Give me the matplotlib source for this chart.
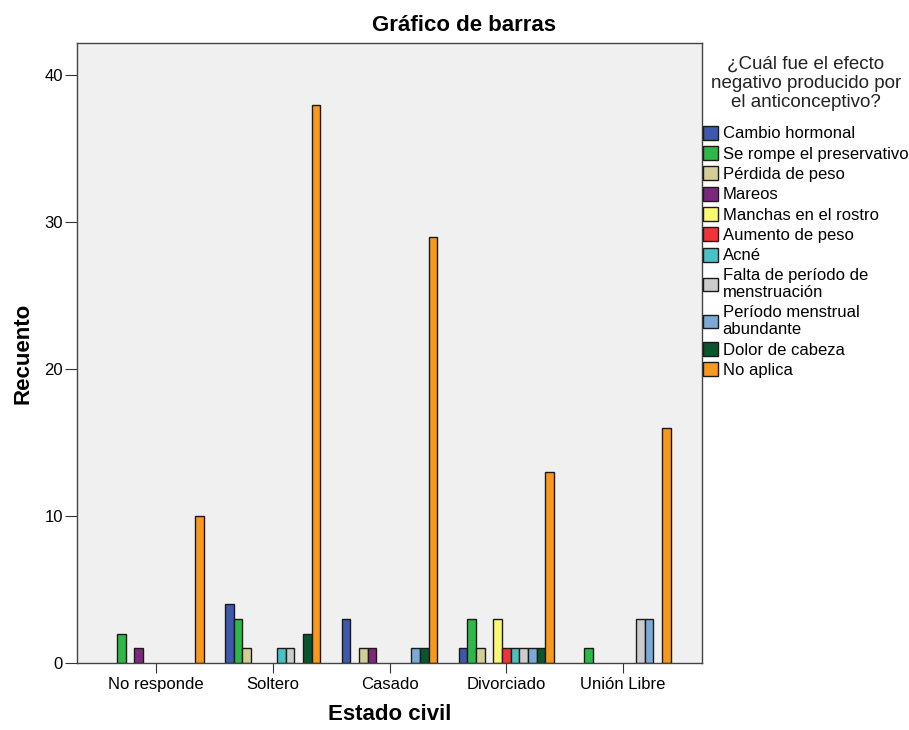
import matplotlib
matplotlib.use("Agg")
import matplotlib.pyplot as plt
import matplotlib.patches as mpatches
import numpy as np

plt.rcParams['font.family'] = ['Liberation Sans', 'DejaVu Sans']

categories = ["No responde", "Soltero", "Casado", "Divorciado", "Unión Libre"]
series_names = [
    "Cambio hormonal",
    "Se rompe el preservativo",
    "Pérdida de peso",
    "Mareos",
    "Manchas en el rostro",
    "Aumento de peso",
    "Acné",
    "Falta de período de\nmenstruación",
    "Período menstrual\nabundante",
    "Dolor de cabeza",
    "No aplica",
]
colors = ["#3E58AC", "#2EB848", "#D3CE97", "#7C287D", "#FBF873", "#EF3338",
          "#48C2C5", "#CCCCCC", "#7AAAD5", "#0A562C", "#F8981D"]

# values per series, across categories
cambio_hormonal = [0, 4, 3, 1, 0]
se_rompe        = [2, 3, 0, 3, 1]
perdida_peso    = [0, 1, 1, 1, 0]
mareos          = [1, 0, 1, 0, 0]
manchas         = [0, 0, 0, 3, 0]
aumento_peso    = [0, 0, 0, 1, 0]
acne            = [0, 1, 0, 1, 0]
falta_periodo   = [0, 1, 0, 1, 3]
periodo_abund   = [0, 0, 1, 1, 3]
dolor_cabeza    = [0, 2, 1, 1, 0]
no_aplica       = [10, 38, 29, 13, 16]

values = [cambio_hormonal, se_rompe, perdida_peso, mareos, manchas, aumento_peso,
          acne, falta_periodo, periodo_abund, dolor_cabeza, no_aplica]

W, H = 909, 730
fig = plt.figure(figsize=(W / 100, H / 100), dpi=100)
ax = fig.add_axes([77 / W, (H - 663) / H, 625 / W, 620 / H])
ax.set_facecolor("#F0F0F0")

EDGE = "#1a1a1a"
n = len(series_names)
bw = 0.0743
x = np.arange(len(categories))
handles = []
for i, (name, vals, c) in enumerate(zip(series_names, values, colors)):
    offs = (i - (n - 1) / 2) * bw
    edges = [EDGE if v > 0 else "none" for v in vals]
    ax.bar(x + offs, vals, width=bw, color=c, edgecolor=edges, linewidth=1.0)
    handles.append(mpatches.Patch(facecolor=c, edgecolor=EDGE, linewidth=1.0, label=name))

ax.set_xlim(-0.677, 4.677)
ax.set_ylim(0, 42.2)
ax.set_xticks(x)
ax.set_xticklabels(categories, fontsize=12)
ax.set_yticks([0, 10, 20, 30, 40])
ax.tick_params(axis='y', labelsize=12, length=8.5, pad=1.5, color="#333333")
ax.tick_params(axis='x', length=7, pad=3, color="#333333")
for s in ax.spines.values():
    s.set_color("#444444")
    s.set_linewidth(1.0)

ax.set_ylabel("Recuento", fontsize=16, fontweight="bold", labelpad=8)
ax.set_xlabel("Estado civil", fontsize=16, fontweight="bold", labelpad=9)
fig.text(464 / W, 1 - 31 / H, "Gráfico de barras", fontsize=16, fontweight="bold",
         ha="center", va="baseline")

fig.text(806 / W, 1 - 56 / H,
         "¿Cuál fue el efecto\nnegativo producido por\nel anticonceptivo?",
         fontsize=13.5, ha="center", va="top", multialignment="center",
         linespacing=1.15, color="#222222")

leg = fig.legend(handles=handles, labels=series_names,
                 loc="upper left", bbox_to_anchor=(701 / W, 1 - 124 / H),
                 frameon=False, fontsize=12,
                 handlelength=0.9, handleheight=0.9,
                 handletextpad=0.3, labelspacing=0.28, borderaxespad=0,
                 borderpad=0.1)

fig.savefig("out.png", dpi=100)
